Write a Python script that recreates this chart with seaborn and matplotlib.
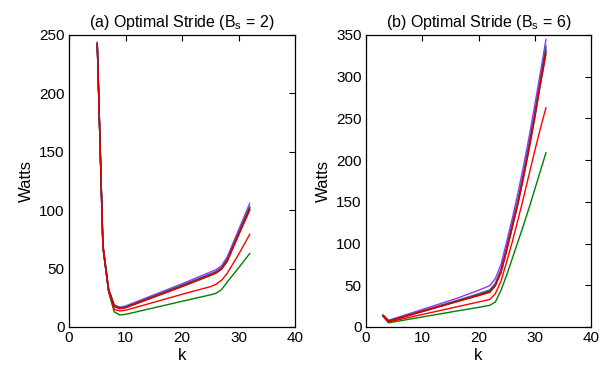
import numpy as np
import pandas as pd
import matplotlib
matplotlib.use("Agg")
import matplotlib.pyplot as plt
import seaborn as sns

# ---- data ----
ka = [5, 6, 7, 8, 9, 10, 20, 25, 26, 27, 28, 30, 32]
a_green = [243, 68, 30, 13, 10.3, 10.8, 22, 27.5, 28.8, 32, 38.5, 50.5, 63]
a_red2 = [243, 68, 31, 15, 13.7, 14.3, 28, 34.5, 36.5, 40, 46, 62, 79.5]
a_purple = [244, 71, 33, 19, 17, 18, 37, 47, 49, 52.5, 60, 83, 106]
a_teal = [243, 70, 32.5, 18.5, 16.5, 17.3, 36, 45.5, 47.5, 51, 58, 81, 103.5]
a_blue = [243, 70, 32, 18.3, 16.3, 17, 35.5, 45, 47, 50.5, 57.5, 80, 102.5]
a_dark = [243, 69.5, 32, 18, 16, 16.7, 35, 44.5, 46.5, 50, 57, 79.5, 102]
a_brown = [243, 70, 32, 18, 16, 16.8, 35, 44.5, 46.5, 50, 57, 79, 101]
a_red = [242, 69, 31.5, 17.5, 15.6, 16.4, 34.5, 44, 46, 49.5, 56, 78.5, 100]

kb = [3, 4, 10, 16, 20, 22, 23, 24, 25, 26, 27, 28, 29, 30, 31, 32]
b_green = [13, 5, 12, 19, 23.5, 26, 30, 44, 62, 82, 102, 122, 143, 165, 187, 209]
b_red2 = [13.5, 6, 15, 24, 30, 33, 40, 55, 78, 102, 128, 155, 183, 211, 238, 263]
b_purple = [14.5, 8, 21, 34, 44, 49.5, 58, 75, 102, 130, 160, 193, 228, 266, 305, 345]
b_teal = [14, 7.5, 19.5, 31.5, 40, 44.5, 52.5, 69, 95, 124, 152, 185, 220, 257, 297, 338]
b_blue = [14, 7.3, 19, 31, 39, 43.5, 51.5, 68, 94, 122, 150, 183, 218, 255, 295, 335]
b_dark = [14, 7, 18.8, 30.5, 38.5, 42.5, 50.5, 67, 93, 121, 149, 181, 216, 253, 293, 332]
b_brown = [13.8, 6.8, 18.3, 30, 37.5, 41.5, 49.5, 65, 91, 119, 147, 179, 213, 250, 290, 327]
b_red = [14, 7, 18.7, 30.3, 38, 42, 50, 66, 92, 120, 148, 180, 215, 252, 292, 330]

series_order = ["green", "red2", "purple", "teal", "blue", "dark", "brown", "red"]
palette = {
    "purple": "#9b30ff",
    "teal": "#2a8a7a",
    "blue": "#3050c0",
    "dark": "#404040",
    "brown": "#8b2a1a",
    "red": "#e00000",
    "red2": "#ff0000",
    "green": "#008000",
}

def long_df(k, d):
    rows = []
    for name, vals in d.items():
        for kk, v in zip(k, vals):
            rows.append({"k": kk, "Watts": v, "series": name})
    return pd.DataFrame(rows)

dfa = long_df(ka, {"purple": a_purple, "teal": a_teal, "blue": a_blue, "dark": a_dark,
                   "brown": a_brown, "red": a_red, "red2": a_red2, "green": a_green})
dfb = long_df(kb, {"purple": b_purple, "teal": b_teal, "blue": b_blue, "dark": b_dark,
                   "brown": b_brown, "red": b_red, "red2": b_red2, "green": b_green})

sns.set_style("white")
plt.rcParams["font.family"] = ["Liberation Sans", "DejaVu Sans"]
plt.rcParams["mathtext.default"] = "regular"
plt.rcParams["xtick.direction"] = "in"
plt.rcParams["ytick.direction"] = "in"
plt.rcParams["text.color"] = "black"
plt.rcParams["axes.labelcolor"] = "black"

fig = plt.figure(figsize=(6.13, 3.73), dpi=100)
axa = fig.add_axes([69/613, 1-327/373, 226/613, 292/373])
axb = fig.add_axes([366/613, 1-327/373, 225/613, 292/373])

for ax, df, title, ylim, yt in [
    (axa, dfa, "(a) Optimal Stride (B$_s$ = 2)", (0, 250), [0, 50, 100, 150, 200, 250]),
    (axb, dfb, "(b) Optimal Stride (B$_s$ = 6)", (0, 350), [0, 50, 100, 150, 200, 250, 300, 350]),
]:
    sns.lineplot(data=df, x="k", y="Watts", hue="series", hue_order=series_order,
                 palette=palette, legend=False, sort=False, linewidth=1.0, ax=ax,
                 estimator=None)
    ax.set_xlim(0, 40)
    ax.set_ylim(*ylim)
    ax.set_xticks([0, 10, 20, 30, 40])
    ax.set_yticks(yt)
    ax.tick_params(axis="both", labelsize=11, length=4, width=0.8, colors="black",
                   top=True, right=True, pad=3)
    for s in ax.spines.values():
        s.set_visible(True)
        s.set_color("black")
        s.set_linewidth(0.9)
    ax.set_xlabel("k", fontsize=12, labelpad=2, color="black")
    ax.set_ylabel("Watts", fontsize=12, labelpad=4, color="black")
    ax.set_title(title, fontsize=11.5, pad=6, color="black")

fig.savefig("out.png", dpi=100)
